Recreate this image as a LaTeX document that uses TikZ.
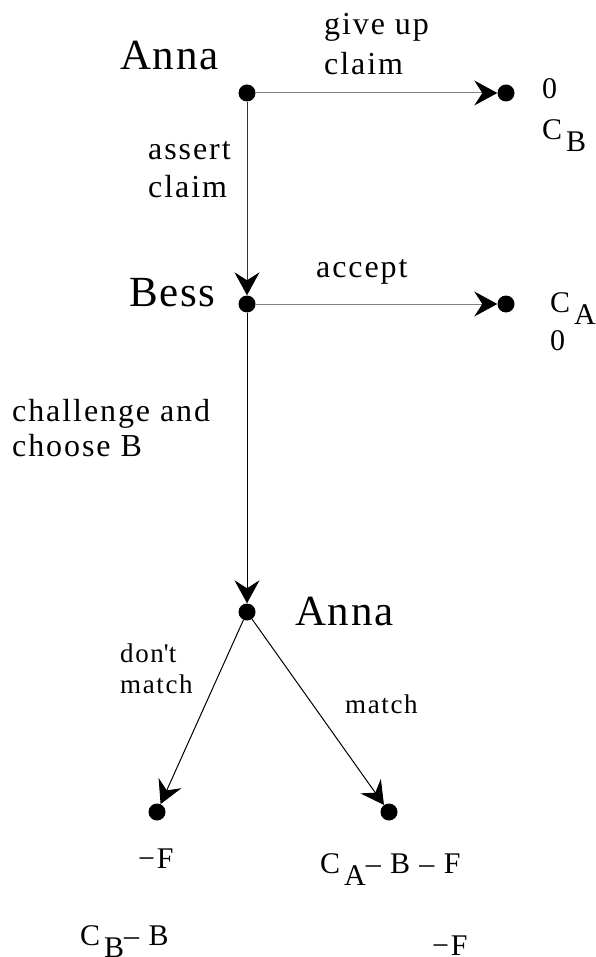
\documentclass[tikz,border=0pt]{standalone}
\usepackage{fontspec}
\setmainfont[LetterSpace=6]{Liberation Serif}
\newfontfamily\playerfont[LetterSpace=4]{Liberation Serif}
\usetikzlibrary{arrows.meta}
\newcommand{\lowr}[1]{\kern4pt\raisebox{-12pt}{#1}}

\tikzset{
  dot/.style={circle,fill=black,inner sep=0pt,minimum size=17pt},
  move/.style={-{Stealth[length=23pt,width=25pt,inset=8pt,color=black]},line width=1pt},
  player/.style={anchor=base west,inner sep=0pt,font=\playerfont\fontsize{43}{48}\selectfont},
  act/.style={anchor=base west,inner sep=0pt,align=left,font=\fontsize{32}{38}\selectfont},
  smallact/.style={act,font=\fontsize{27}{31}\selectfont},
  pay/.style={anchor=base west,inner sep=0pt,font=\fontsize{30}{34}\selectfont}
}

\begin{document}
\begin{tikzpicture}[x=1pt,y=-1pt]
\useasboundingbox (0,0) rectangle (595,957);
% decision nodes
\node[dot] (anna) at (247,93) {};
\node[dot] (bess) at (247,304) {};
\node[dot] (anna2) at (247,612) {};
% end nodes
\node[dot] (giveup) at (506,93) {};
\node[dot] (accept) at (506,304) {};
\node[dot] (nomatch) at (157,812) {};
\node[dot] (match) at (389,812) {};

\draw[move,gray] (anna) -- (giveup);
\draw[move,black!80] (anna) -- (bess);
\draw[move,gray] (bess) -- (accept);
\draw[move] (bess) -- (anna2);
\draw[move] (anna2) -- (nomatch);
\draw[move] (anna2) -- (match);

% players
\node[player] (annaname) at (120,70) {Anna};
\node[player] (bessname) at (129,306) {Bess};
\node[player] (annaname2) at (295,625) {Anna};

% moves (base = last line)
\node[act] (giveuplbl) at (324,75) {give up\\[2pt]claim};
\node[act] (assertlbl) at (148,198) {assert\\claim};
\node[act] (acceptlbl) at (316,278) {accept};
\node[act] (challengelbl) at (12,456) {challenge and\\[-3pt]choose B};
\node[smallact] (dontlbl) at (120,693) {don\textquotesingle t\\match};
\node[smallact] (matchlbl) at (345,713) {match};

% payoffs
\node[pay] (payA1) at (542,99) {0};
\node[pay] (payB1) at (542,140) {C\lowr{B}};
\node[pay] (payA2) at (550,312) {C\lowr{A}};
\node[pay] (payB2) at (550,350) {0};
\node[pay] (payA3) at (138,868) {−F};
\node[pay] (payB3) at (80,945) {C\lowr{B}– B};
\node[pay] (payA4) at (320,873) {C\lowr{A}– B – F};
\node[pay] (payB4) at (432,955) {−F};
\end{tikzpicture}
\end{document}
